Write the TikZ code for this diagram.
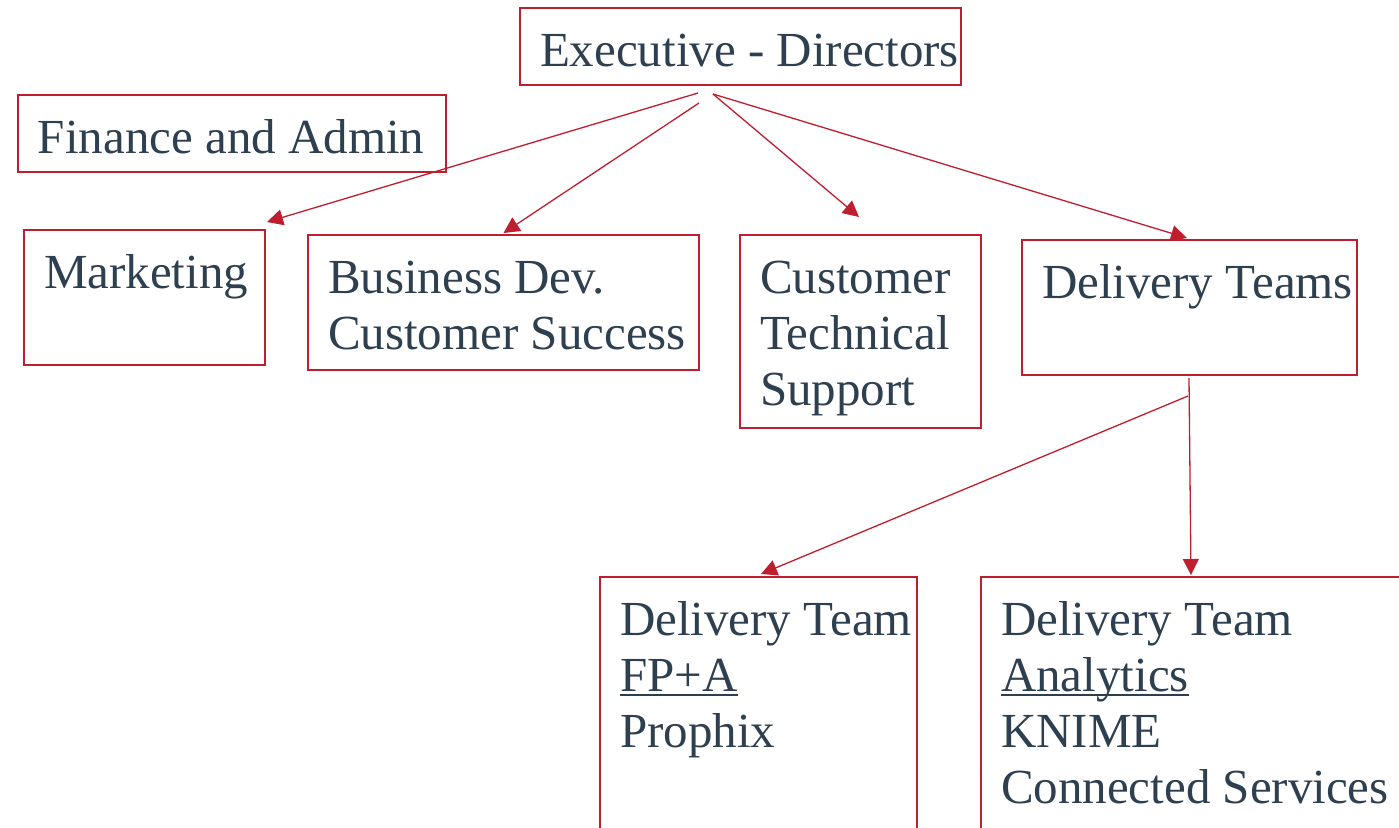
\documentclass[tikz,border=0pt]{standalone}
\usepackage{fontspec}
\setmainfont{Liberation Serif}
\usetikzlibrary{arrows.meta}

\definecolor{brick}{RGB}{190,30,45}
\definecolor{slate}{RGB}{46,64,80}

% box text: width, height, lines (top aligned)
\newcommand{\cell}[3]{\parbox[c][#2][t]{#1}{\leftskip=10pt \rightskip=-40pt plus 1fil
  \vspace*{\dimexpr29pt-0.7\baselineskip\relax}\strut #3}}
% underline just under the baseline
\newlength{\ulwd}
\newcommand{\uln}[1]{\settowidth{\ulwd}{#1}\rlap{\rule[-2.5pt]{\ulwd}{1pt}}#1}

\begin{document}
\begin{tikzpicture}[x=0.5pt, y=-0.5pt,
  unit/.style={draw=brick, line width=1pt, anchor=north west, inner sep=0pt, text=slate,
    font=\fontsize{24.5}{28}\selectfont},
  link/.style={draw=brick, line width=0.65pt, -{Triangle[length=8pt, width=8pt]}}]
\useasboundingbox (0,0) rectangle (1399,827);
\node[unit] (exec) at (519,7) {\cell{220.5pt}{38.5pt}{Executive - Directors}};
\node[unit] (fin) at (17,94) {\cell{214pt}{38.5pt}{Finance and Admin}};
\node[unit] (mkt) at (23,229) {\cell{120.5pt}{67.5pt}{Marketing}};
\node[unit] (biz) at (307,234) {\cell{195.5pt}{67.5pt}{Business Dev.\\Customer Success}};
\node[unit] (cts) at (739,234) {\cell{120.5pt}{96.5pt}{Customer\\Technical\\Support}};
\node[unit] (dlv) at (1021,239) {\cell{167.5pt}{67.5pt}{Delivery Teams}};
\node[unit] (fpa) at (599,576) {\cell{158.5pt}{130pt}{Delivery Team\\\uln{FP+A}\\Prophix}};
\node[unit] (ana) at (980,576) {\cell{220pt}{130pt}{Delivery Team\\\uln{Analytics}\\KNIME\\Connected Services}};
\draw[link] ([shift={(-42.5,7)}]exec.south) -- ([shift={(1,-7)}]mkt.north east);
\draw[link] ([shift={(-41.5,17)}]exec.south) -- ([shift={(0,-1)}]biz.north);
\draw[link] ([shift={(-27.5,8)}]exec.south) -- ([shift={(-1.5,-17)}]cts.north);
\draw[link] ([shift={(-27.5,8)}]exec.south) -- ([shift={(-2.5,-1)}]dlv.north);
\draw[link] ([shift={(-1.5,20)}]dlv.south) -- ([shift={(2.5,-2)}]fpa.north);
\draw[link] ([shift={(-0.5,2)}]dlv.south) -- ([shift={(211,-1)}]ana.north west);
\end{tikzpicture}
\end{document}
